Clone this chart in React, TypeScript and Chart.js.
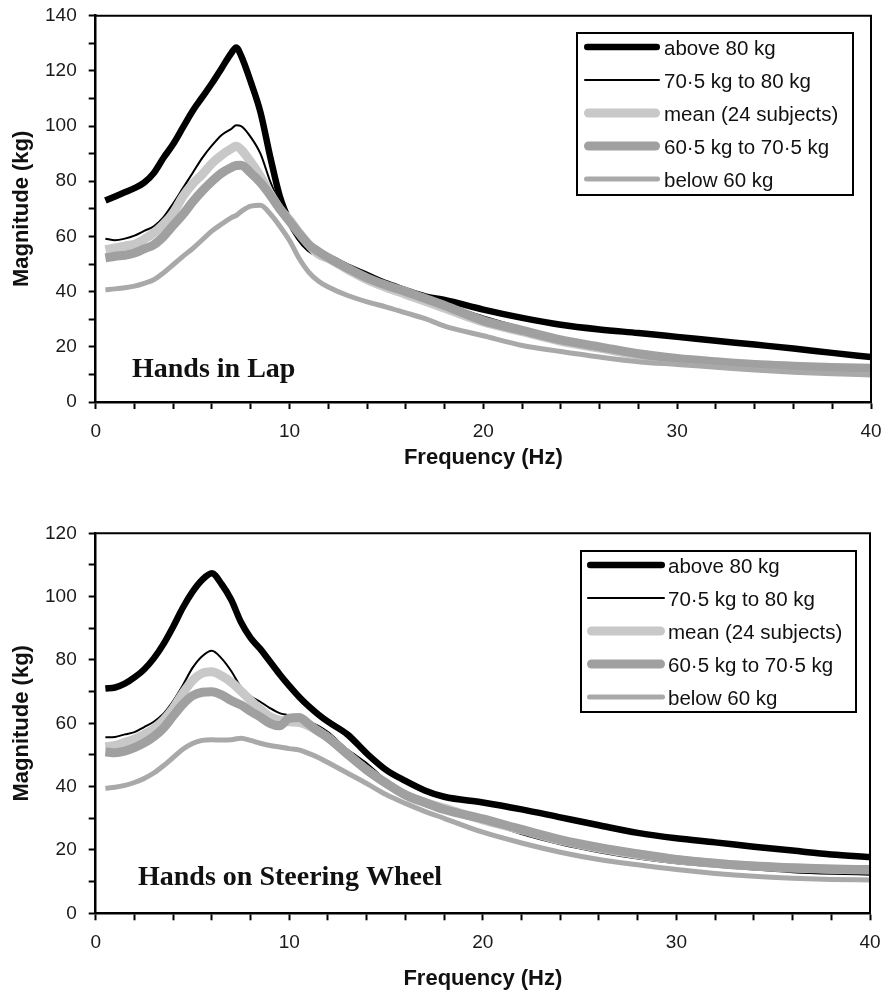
import React, { useEffect, useRef } from 'react';
import { Chart, registerables } from 'chart.js';

Chart.register(...registerables);

// ---- Series definitions -------------------------------------------------
const SERIES_LABELS = [
  'above 80 kg',
  '70·5 kg to 80 kg',
  'mean (24 subjects)',
  '60·5 kg to 70·5 kg',
  'below 60 kg',
];
const SERIES_COLORS = ['#000000', '#000000', '#c8c8c8', '#a0a0a0', '#a9a9a9'];
const SERIES_WIDTHS = [6.5, 2, 9, 9, 5];

// ---- Hands in Lap -------------------------------------------------------
const LAP_FREQ = [
  0.5, 1, 1.5, 2, 2.5, 3, 3.5, 4, 4.5, 5, 5.5, 6, 6.5, 7, 7.25, 7.5, 8, 8.5, 9, 9.5, 10, 10.5, 11, 11.5, 12,
  13, 14, 15, 16, 17, 18, 20, 22, 24, 26, 28, 30, 32, 34, 36, 38, 40,
];
const LAP_ABOVE_80 = [
  73, 74.5, 76, 77.5, 79.5, 83, 88.5, 93.5, 99.5, 105.5, 110.5, 115.5, 121, 126.5, 128.5, 125.5, 116, 105, 89, 74.5, 65.5, 59.5, 55.5, 53.5, 52.5,
  49, 46, 43, 40.5, 38.3, 37, 33.5, 30.5, 28, 26.3, 25, 23.6, 22.2, 20.8, 19.4, 17.8, 16.3,
];
const LAP_70_TO_80 = [
  59.2, 58.6, 59.2, 60.3, 62, 63.7, 67, 72, 77.5, 83, 88.5, 93, 96.8, 99, 100.3, 100, 96, 90, 80, 72, 66, 60.5, 56, 53, 51.5,
  48.5, 45.5, 42.5, 40, 37.5, 35.5, 31, 27, 23.5, 20.8, 18.3, 16.5, 15, 13.8, 12.8, 12, 11.5,
];
const LAP_MEAN = [
  55.2, 55.8, 56.5, 57.2, 59, 61.3, 64.5, 68.5, 74.5, 79, 82.5, 86.5, 89.5, 91.8, 92.7, 91.5, 87, 81.8, 75.5, 70, 66, 61.3, 57, 53.5, 52,
  48, 44.3, 41.5, 39, 36.5, 34, 29, 25.5, 22, 19.5, 17, 15.3, 14.2, 13.2, 12.6, 12.2, 11.8,
];
const LAP_60_TO_70 = [
  52.2, 52.8, 53.2, 54, 55.5, 57, 60, 64, 68, 72.5, 76.5, 80, 83, 85, 85.7, 85.8, 83, 79.5, 75, 70, 65.5, 61, 57, 54.5, 52.3,
  48.5, 45, 42.3, 40, 37.5, 35, 29.5, 26, 22.5, 20, 17.5, 15.8, 14.6, 13.6, 13, 12.5, 12.2,
];
const LAP_BELOW_60 = [
  40.7, 41, 41.4, 42, 43, 44.3, 46.8, 49.8, 52.8, 55.6, 58.8, 62, 64.5, 66.8, 67.6, 69, 71, 71.3, 68.2, 63.7, 58.5, 52, 47, 43.8, 41.7,
  38.6, 36.3, 34.4, 32.3, 30.2, 27.5, 24, 20.5, 18.3, 16.3, 14.6, 13.6, 12.6, 11.6, 10.8, 10.2, 9.8,
];

// ---- Hands on Steering Wheel --------------------------------------------
const WHEEL_FREQ = [
  0.5, 1, 1.5, 2, 2.5, 3, 3.5, 4, 4.5, 5, 5.5, 6, 6.5, 7, 7.5, 8, 8.5, 9, 9.5, 10, 10.5, 11, 11.5, 12,
  13, 14, 15, 16, 17, 18, 20, 22, 24, 26, 28, 30, 32, 34, 36, 38, 40,
];
const WHEEL_ABOVE_80 = [
  71, 71.3, 72.5, 74.5, 77, 80.5, 85, 90.5, 96.5, 101.5, 105.3, 107.4, 104, 99, 92, 87, 83.5, 79.5, 75.5, 71.8, 68.4, 65.4, 62.8, 60.5,
  56.5, 50.5, 45.3, 41.8, 38.8, 36.8, 35, 32.8, 30.3, 27.8, 25.4, 23.7, 22.4, 21, 19.8, 18.6, 17.8,
];
const WHEEL_70_TO_80 = [
  55.6, 55.7, 56.5, 57.2, 58.8, 60.5, 63, 67, 72, 77.5, 81.2, 82.9, 80.5, 76.5, 71.5, 68.5, 66.8, 64.8, 63.2, 62.5, 61.5, 60.4, 59.2, 57.2,
  51.8, 47.4, 42, 38, 35, 33, 29.2, 25, 21.8, 19.3, 17.3, 15.8, 14.8, 13.8, 13, 12.5, 12.2,
];
const WHEEL_MEAN = [
  52.6, 53, 54, 55, 56.5, 58.3, 61, 64.7, 69.5, 73.5, 75.8, 76.3, 75, 73, 70.2, 67.2, 64.5, 62.1, 61, 60.5, 60.3, 59.2, 57.5, 55.5,
  50.3, 45.3, 41.1, 37.4, 35, 33.2, 29.5, 26.3, 23, 20.5, 18.5, 16.9, 15.8, 14.9, 14.3, 13.9, 13.7,
];
const WHEEL_60_TO_70 = [
  51, 50.7, 51.2, 52.3, 53.8, 55.8, 58.5, 62.3, 66, 68.7, 69.8, 70, 69, 67.2, 65.8, 63.8, 62, 60, 59.2, 61.6, 61.8, 59.8, 57.5, 55.5,
  50.3, 45.3, 41.1, 37.4, 35, 32.8, 29.8, 26.5, 23.3, 20.8, 18.8, 17, 15.8, 14.9, 14.4, 14, 13.8,
];
const WHEEL_BELOW_60 = [
  39.5, 39.8, 40.4, 41.3, 42.6, 44.3, 46.6, 49.2, 51.8, 53.6, 54.6, 54.8, 54.7, 54.8, 55.3, 54.6, 53.7, 53, 52.5, 52, 51.6, 50.5, 49.2, 47.6,
  44.3, 41, 37.5, 34.7, 32.2, 30, 25.6, 22.2, 19.3, 17, 15.3, 13.8, 12.6, 11.7, 11.1, 10.7, 10.5,
];

const X_MAX = 40;
const X_MINOR_STEP = 2;
const X_LABEL_STEP = 10;
const Y_MINOR_STEP = 10;
const Y_LABEL_STEP = 20;

const SANS = '"Liberation Sans", Arial, Helvetica, sans-serif';
const SERIF = '"Liberation Serif", "Times New Roman", Times, serif';

type PanelSpec = {
  top: number;
  freq: number[];
  series: number[][];
  yMax: number;
  caption: string;
  captionX: number;
  captionY: number;
  padTop: number;
  padRight: number;
  xAxisHeight: number;
  xTitlePad: number;
  legend: {
    x: number; y: number; w: number; h: number;
    rowY: number; rowGap: number; lineX0: number; lineX1: number; textX: number;
  };
};

const PANELS: PanelSpec[] = [
  {
    top: 0,
    freq: LAP_FREQ,
    series: [LAP_ABOVE_80, LAP_70_TO_80, LAP_MEAN, LAP_60_TO_70, LAP_BELOW_60],
    yMax: 140,
    caption: 'Hands in Lap',
    captionX: 132,
    captionY: 377,
    padTop: 15.7,
    padRight: 15,
    xAxisHeight: 94,
    xTitlePad: 25,
    legend: { x: 577, y: 33, w: 276, h: 162, rowY: 47, rowGap: 33, lineX0: 584, lineX1: 660, textX: 664 },
  },
  {
    top: 496,
    freq: WHEEL_FREQ,
    series: [WHEEL_ABOVE_80, WHEEL_70_TO_80, WHEEL_MEAN, WHEEL_60_TO_70, WHEEL_BELOW_60],
    yMax: 120,
    caption: 'Hands on Steering Wheel',
    captionX: 138,
    captionY: 389,
    padTop: 37.3,
    padRight: 16,
    xAxisHeight: 78.7,
    xTitlePad: 0,
    legend: { x: 581, y: 55, w: 275, h: 161, rowY: 69, rowGap: 33, lineX0: 587, lineX1: 665, textX: 668 },
  },
];

// Frame on the top/right edges, the caption and the boxed legend.
const panelDecor = {
  id: 'panelDecor',
  afterDraw(chart: any, _args: any, opts: any) {
    const { ctx, chartArea: a } = chart;
    ctx.save();
    ctx.strokeStyle = '#000';
    ctx.lineWidth = 2;
    ctx.beginPath();
    ctx.moveTo(a.left, a.top);
    ctx.lineTo(a.right, a.top);
    ctx.lineTo(a.right, a.bottom);
    ctx.stroke();

    ctx.fillStyle = '#111';
    ctx.font = `bold 28px ${SERIF}`;
    ctx.textAlign = 'left';
    ctx.textBaseline = 'alphabetic';
    ctx.fillText(opts.caption, opts.captionX, opts.captionY);

    const L = opts.legend;
    ctx.fillStyle = '#fff';
    ctx.fillRect(L.x, L.y, L.w, L.h);
    ctx.strokeStyle = '#000';
    ctx.lineWidth = 2;
    ctx.strokeRect(L.x, L.y, L.w, L.h);

    ctx.font = `20.5px ${SANS}`;
    ctx.textBaseline = 'middle';
    chart.data.datasets.forEach((ds: any, i: number) => {
      const y = L.rowY + i * L.rowGap;
      const w = ds.borderWidth;
      ctx.strokeStyle = ds.borderColor;
      ctx.lineWidth = w;
      ctx.lineCap = 'round';
      ctx.beginPath();
      ctx.moveTo(L.lineX0 + w / 2, y);
      ctx.lineTo(L.lineX1 - w / 2, y);
      ctx.stroke();
      ctx.fillStyle = '#111';
      ctx.fillText(ds.label, L.textX, y + 2);
    });
    ctx.restore();
  },
};

function isMultiple(v: number, step: number) {
  const r = Math.round(v);
  return Math.abs(v - r) < 1e-6 && r % step === 0;
}

function buildConfig(spec: PanelSpec): any {
  const datasets = spec.series.map((vals, i) => ({
    label: SERIES_LABELS[i],
    data: spec.freq.map((f, j) => ({ x: f, y: vals[j] })),
    borderColor: SERIES_COLORS[i],
    backgroundColor: SERIES_COLORS[i],
    borderWidth: SERIES_WIDTHS[i],
    pointRadius: 0,
    fill: false,
    cubicInterpolationMode: 'monotone',
    order: SERIES_LABELS.length - i,
  }));

  const tickGrid = {
    display: true,
    drawOnChartArea: false,
    drawTicks: true,
    tickLength: 7,
    tickColor: '#000',
    tickWidth: 2,
  };

  return {
    type: 'line',
    data: { datasets },
    plugins: [panelDecor],
    options: {
      animation: false,
      responsive: true,
      maintainAspectRatio: false,
      layout: { padding: { top: spec.padTop, right: spec.padRight, left: 0, bottom: 0 } },
      plugins: {
        legend: { display: false },
        tooltip: { enabled: false },
        panelDecor: { caption: spec.caption, captionX: spec.captionX, captionY: spec.captionY, legend: spec.legend },
      },
      scales: {
        x: {
          type: 'linear',
          min: 0,
          max: X_MAX,
          afterFit: (s: any) => {
            s.height = spec.xAxisHeight;
            s.paddingLeft = 0;
            s.paddingRight = 0;
          },
          border: { display: true, color: '#000', width: 2.5 },
          grid: tickGrid,
          ticks: {
            stepSize: X_MINOR_STEP,
            autoSkip: false,
            maxRotation: 0,
            padding: 11,
            color: '#1a1a1a',
            font: { size: 19, family: SANS },
            callback: (v: number) => (isMultiple(v, X_LABEL_STEP) ? String(Math.round(v)) : ''),
          },
          title: {
            display: true,
            text: 'Frequency (Hz)',
            color: '#111',
            font: { size: 22, weight: 'bold', family: SANS },
            padding: { top: 0, bottom: spec.xTitlePad },
          },
        },
        y: {
          type: 'linear',
          min: 0,
          max: spec.yMax,
          afterFit: (s: any) => {
            s.width = 95.7;
            s.paddingTop = 0;
            s.paddingBottom = 0;
          },
          border: { display: true, color: '#000', width: 2.5 },
          grid: tickGrid,
          ticks: {
            stepSize: Y_MINOR_STEP,
            autoSkip: false,
            padding: 12,
            color: '#1a1a1a',
            font: { size: 19, family: SANS },
            callback: (v: number) => (isMultiple(v, Y_LABEL_STEP) ? String(Math.round(v)) : ''),
          },
          title: {
            display: true,
            text: 'Magnitude (kg)',
            color: '#111',
            font: { size: 22, weight: 'bold', family: SANS },
            padding: { top: 9, bottom: 0 },
          },
        },
      },
    },
  };
}

function Panel({ spec }: { spec: PanelSpec }) {
  const ref = useRef<HTMLCanvasElement>(null);
  useEffect(() => {
    if (!ref.current) return;
    const chart = new Chart(ref.current, buildConfig(spec));
    return () => chart.destroy();
  }, [spec]);
  return (
    <div style={{ position: 'absolute', left: 0, top: spec.top, width: 886, height: 496 }}>
      <canvas ref={ref} />
    </div>
  );
}

export default function App() {
  return (
    <div style={{ position: 'absolute', left: 0, top: 0, width: 886, height: 992, background: '#fff' }}>
      {PANELS.map((p) => (
        <Panel key={p.caption} spec={p} />
      ))}
    </div>
  );
}
